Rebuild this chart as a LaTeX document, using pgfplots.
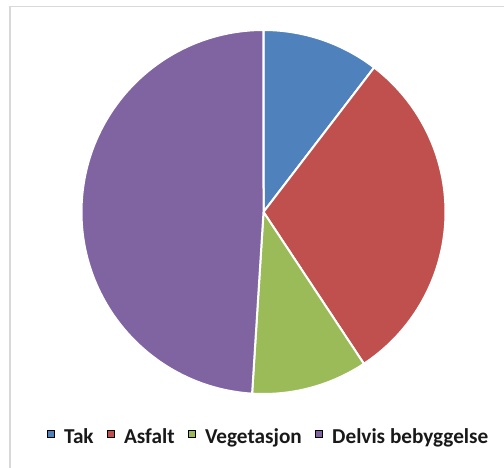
\documentclass[border=0pt]{standalone}
\usepackage{pgfplots}
\usepackage{pgfplotstable}
\usepackage{fontspec}
\setmainfont{Carlito}
\pgfplotsset{compat=1.18}
\definecolor{cTak}{HTML}{4F81BD}
\definecolor{cAsf}{HTML}{C0504D}
\definecolor{cVeg}{HTML}{9BBB59}
\definecolor{cDel}{HTML}{8064A2}
\definecolor{cBorder}{HTML}{D9D9D9}
\pgfplotstableread{
label value
Tak 10.4
Asfalt 30.3
Vegetasjon 10.3
Delvis 49.0
}\piedata
\begin{document}
\begin{tikzpicture}
\pgfplotstablegetelem{0}{value}\of\piedata \let\vA\pgfplotsretval
\pgfplotstablegetelem{1}{value}\of\piedata \let\vB\pgfplotsretval
\pgfplotstablegetelem{2}{value}\of\piedata \let\vC\pgfplotsretval
\pgfplotstablegetelem{3}{value}\of\piedata \let\vD\pgfplotsretval
\pgfmathsetmacro\tot{\vA+\vB+\vC+\vD}
\pgfmathsetmacro\aA{90}
\pgfmathsetmacro\aB{\aA-360*(\vA/\tot)}
\pgfmathsetmacro\aC{\aB-360*(\vB/\tot)}
\pgfmathsetmacro\aD{\aC-360*(\vC/\tot)}
\pgfmathsetmacro\aE{\aD-360*(\vD/\tot)}
\begin{axis}[
  scale only axis, width=504bp, height=468bp,
  xmin=0, xmax=504, ymin=0, ymax=468,
  hide axis, clip=false,
  legend columns=4,
  legend image code/.code={\fill[#1] (0bp,6bp) rectangle (7bp,13bp);},
  legend style={at={(axis cs:267.5,31)}, anchor=center, draw=none, fill=none,
    font=\fontsize{21.3}{25}\selectfont\bfseries, text=black!90,
    inner sep=0pt, nodes={inner sep=0pt}, cells={anchor=base west},
    /tikz/every odd column/.append style={column sep=10bp},
    /tikz/every even column/.append style={column sep=13bp}},
]
\addlegendimage{fill=cTak}\addlegendentry{Tak}
\addlegendimage{fill=cAsf}\addlegendentry{Asfalt}
\addlegendimage{fill=cVeg}\addlegendentry{Vegetasjon}
\addlegendimage{fill=cDel}\addlegendentry{Delvis bebyggelse}
\draw[cBorder, line width=1.5bp] (axis cs:10,0) -- (axis cs:10,461.3) -- (axis cs:504,461.3);
\fill[cTak, draw=white, line width=2bp] (axis cs:263.5,256) -- ([shift={(\aA:182bp)}]axis cs:263.5,256) arc[start angle=\aA, end angle=\aB, radius=182bp] -- cycle;
\fill[cAsf, draw=white, line width=2bp] (axis cs:263.5,256) -- ([shift={(\aB:182bp)}]axis cs:263.5,256) arc[start angle=\aB, end angle=\aC, radius=182bp] -- cycle;
\fill[cVeg, draw=white, line width=2bp] (axis cs:263.5,256) -- ([shift={(\aC:182bp)}]axis cs:263.5,256) arc[start angle=\aC, end angle=\aD, radius=182bp] -- cycle;
\fill[cDel, draw=white, line width=2bp] (axis cs:263.5,256) -- ([shift={(\aD:182bp)}]axis cs:263.5,256) arc[start angle=\aD, end angle=\aE, radius=182bp] -- cycle;
\end{axis}
\pgfresetboundingbox
\useasboundingbox (0,0) rectangle (504bp,468bp);
\end{tikzpicture}
\end{document}
